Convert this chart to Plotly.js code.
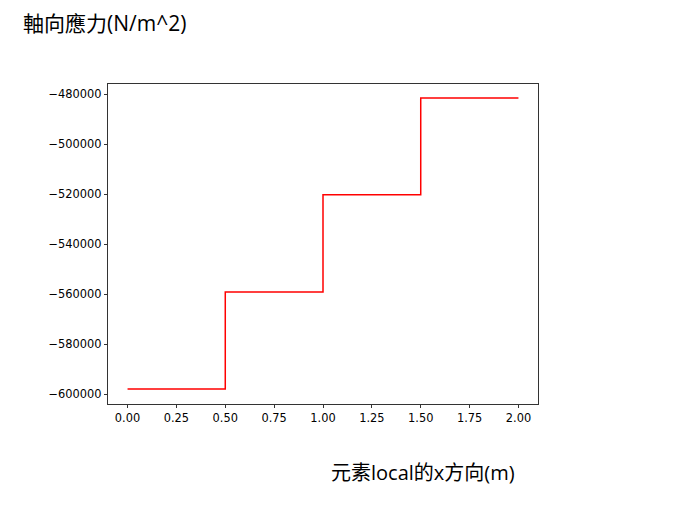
<!DOCTYPE html>
<html>
<head>
<meta charset="utf-8">
<script src="https://cdn.plot.ly/plotly-3.0.1.min.js"></script>
<style>html,body{margin:0;padding:0;background:#fff;}</style>
</head>
<body>
<div id="chart" style="width:676px;height:507px;"></div>
<script>
// Element boundaries along local x (m) and axial stress per element (N/m^2)
const xPoints = [0, 0.5, 1.0, 1.5, 2.0];
const stress = [-597900, -559100, -520300, -481600, -481600];
const xTickVals = [0, 0.25, 0.5, 0.75, 1.0, 1.25, 1.5, 1.75, 2.0];
const xTickText = ["0.00", "0.25", "0.50", "0.75", "1.00", "1.25", "1.50", "1.75", "2.00"];
const yTickVals = [-600000, -580000, -560000, -540000, -520000, -500000, -480000];
const yTickText = ["\u2212600000", "\u2212580000", "\u2212560000", "\u2212540000", "\u2212520000", "\u2212500000", "\u2212480000"];
const titleText = "軸向應力(N/m^2)";
const xTitleText = "元素local的x方向(m)";

const tickFont = {family: "DejaVu Sans", size: 11.4, color: "#000"};
const cjkFont = "'Open Sans', 'Noto Sans CJK TC', 'Noto Sans CJK SC', sans-serif";

const trace = {
  x: xPoints, y: stress, type: "scatter", mode: "lines",
  line: {color: "#ff0000", width: 1.5, shape: "hv"},
  hoverinfo: "skip"
};

const layout = {
  width: 676, height: 507,
  margin: {l: 108, r: 138, t: 84, b: 103, pad: 0},
  paper_bgcolor: "#fff", plot_bgcolor: "#fff",
  showlegend: false,
  xaxis: {
    range: [-0.1, 2.1], tickvals: xTickVals, ticktext: xTickText,
    ticks: "outside", ticklen: 3.5, tickwidth: 0.8, tickcolor: "#000",
    showline: true, linecolor: "#000", linewidth: 0.8, mirror: true,
    showgrid: false, zeroline: false, tickfont: tickFont
  },
  yaxis: {
    range: [-603900, -476000], tickvals: yTickVals, ticktext: yTickText,
    ticks: "outside", ticklen: 3.5, tickwidth: 0.8, tickcolor: "#000",
    showline: true, linecolor: "#000", linewidth: 0.8, mirror: true,
    showgrid: false, zeroline: false, tickfont: tickFont
  },
  annotations: [
    {text: titleText, xref: "paper", yref: "paper", x: -108/430, y: 1 + (84-23)/320,
     xanchor: "left", yanchor: "middle", xshift: 21, showarrow: false,
     font: {family: cjkFont, size: 21, color: "#000"}},
    {text: xTitleText, xref: "paper", yref: "paper", x: (423-108)/430, y: -(472-404)/320,
     xanchor: "center", yanchor: "middle", showarrow: false,
     font: {family: cjkFont, size: 20, color: "#000"}}
  ]
};

Plotly.newPlot("chart", [trace], layout, {displayModeBar: false, staticPlot: true});
</script>
</body>
</html>
